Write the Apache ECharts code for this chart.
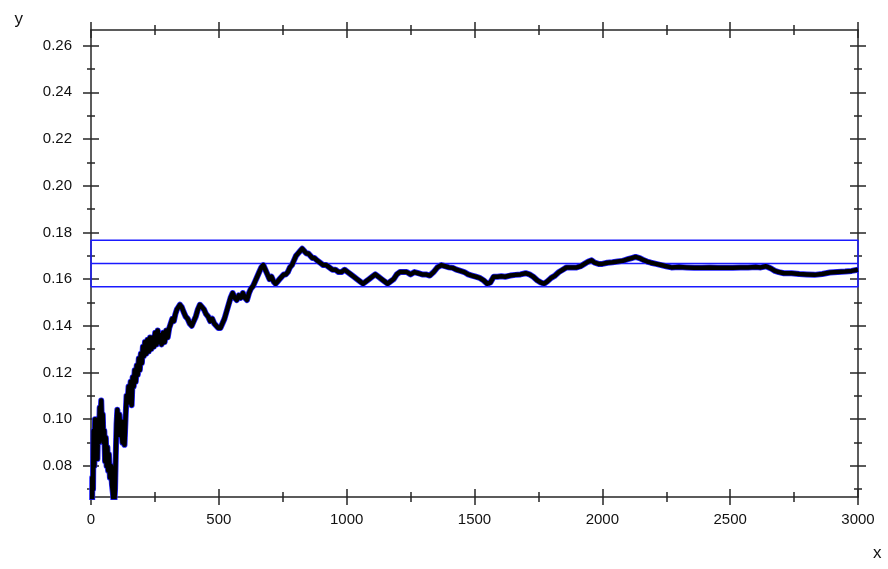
<!DOCTYPE html>
<html><head><meta charset="utf-8">
<script src="https://cdn.jsdelivr.net/npm/echarts@6/dist/echarts.min.js"></script>
<style>html,body{margin:0;padding:0;background:#fff}#c{width:888px;height:569px}</style>
</head><body><div id="c"></div>
<script>
// ---- data ----
const xMajorTicks = [0, 500, 1000, 1500, 2000, 2500, 3000];
const xMinorTicks = [250, 750, 1250, 1750, 2250, 2750];
const yMajorTicks = [0.08, 0.10, 0.12, 0.14, 0.16, 0.18, 0.20, 0.22, 0.24, 0.26];
const yMinorTicks = [0.07, 0.09, 0.11, 0.13, 0.15, 0.17, 0.19, 0.21, 0.23, 0.25];
const expected = 1 / 6;
const bandLow = expected - 0.01;
const bandHigh = expected + 0.01;
const yMin = expected - 0.1;
const yMax = expected + 0.1;

const rollsX = [2,5,8,10,13,16,19,22,25,28,31,34,37,40,43,46,49,52,55,58,61,64,67,70,74,78,82,86,90,94,97,100,103,107,111,115,119,123,127,131,135,139,143,147,151,155,159,163,167,171,175,179,183,187,191,195,199,203,207,211,216,221,226,231,236,241,246,251,256,261,266,271,276,282,288,294,300,306,312,318,324,330,336,342,348,355,362,370,378,386,394,402,410,418,426,434,442,450,458,466,474,482,490,498,506,514,522,530,538,546,554,562,570,578,586,594,602,610,618,626,634,642,650,658,666,674,682,690,698,706,714,722,730,738,746,754,762,770,778,786,794,802,810,818,826,834,842,850,858,866,874,884,896,908,920,932,944,956,968,980,992,1004,1016,1028,1040,1052,1064,1076,1088,1100,1112,1124,1136,1148,1160,1172,1184,1196,1208,1220,1235,1250,1265,1280,1295,1310,1325,1340,1355,1370,1385,1400,1415,1430,1445,1460,1475,1490,1505,1520,1535,1550,1562,1575,1590,1605,1620,1640,1660,1680,1700,1715,1730,1745,1760,1772,1785,1800,1815,1830,1845,1860,1880,1900,1915,1930,1945,1958,1970,1985,2000,2020,2040,2060,2080,2100,2115,2130,2145,2160,2175,2190,2210,2230,2250,2270,2300,2330,2360,2390,2420,2450,2480,2510,2540,2570,2600,2620,2640,2660,2675,2690,2710,2740,2770,2800,2830,2860,2890,2920,2950,2975,3000];
const rollsY = [0.0,0.075,0.07,0.095,0.08,0.1,0.085,0.098,0.083,0.1,0.09,0.105,0.1,0.108,0.097,0.102,0.09,0.095,0.082,0.092,0.08,0.088,0.078,0.085,0.075,0.08,0.072,0.068,0.062,0.07,0.085,0.098,0.104,0.098,0.102,0.093,0.099,0.09,0.096,0.089,0.1,0.11,0.107,0.114,0.108,0.116,0.106,0.118,0.114,0.121,0.116,0.123,0.119,0.126,0.121,0.128,0.124,0.131,0.127,0.133,0.128,0.134,0.129,0.135,0.13,0.135,0.131,0.137,0.132,0.138,0.133,0.136,0.132,0.137,0.133,0.138,0.135,0.139,0.141,0.143,0.142,0.145,0.147,0.148,0.149,0.148,0.146,0.144,0.143,0.141,0.14,0.142,0.144,0.147,0.149,0.148,0.147,0.145,0.144,0.142,0.143,0.141,0.14,0.139,0.139,0.141,0.143,0.146,0.149,0.152,0.154,0.152,0.151,0.153,0.152,0.154,0.152,0.151,0.154,0.156,0.157,0.159,0.161,0.163,0.165,0.166,0.164,0.162,0.16,0.161,0.159,0.158,0.159,0.16,0.161,0.162,0.162,0.163,0.165,0.166,0.168,0.17,0.171,0.172,0.173,0.172,0.171,0.171,0.17,0.169,0.169,0.168,0.167,0.166,0.166,0.165,0.164,0.164,0.163,0.163,0.164,0.163,0.162,0.161,0.16,0.159,0.158,0.159,0.16,0.161,0.162,0.161,0.16,0.159,0.158,0.159,0.16,0.162,0.163,0.163,0.163,0.162,0.163,0.1625,0.162,0.162,0.1615,0.163,0.165,0.166,0.1655,0.165,0.1648,0.164,0.1635,0.163,0.162,0.1615,0.161,0.1605,0.1595,0.158,0.1585,0.161,0.161,0.1612,0.161,0.1615,0.1618,0.162,0.1625,0.162,0.161,0.1595,0.1585,0.158,0.159,0.1605,0.1615,0.163,0.164,0.165,0.165,0.165,0.1655,0.1665,0.1675,0.168,0.167,0.1665,0.1665,0.167,0.1672,0.1675,0.1678,0.1685,0.169,0.1695,0.169,0.1682,0.1675,0.167,0.1665,0.166,0.1655,0.165,0.1652,0.165,0.1648,0.1648,0.165,0.1648,0.1648,0.1648,0.165,0.165,0.1652,0.165,0.1655,0.1645,0.1635,0.163,0.1625,0.1625,0.1622,0.162,0.1618,0.1622,0.1628,0.163,0.1632,0.1635,0.164];

// ---- chart ----
const rolls = rollsX.map((x, i) => [x, rollsY[i]]);
const FONT = 'Liberation Sans';
const TXT = '#111';
const AX = '#262626';

function xAx(pos, inside, len, values, main) {
  return {
    type: 'value', position: pos, min: 0, max: 3000,
    axisLine: { show: main, onZero: false, lineStyle: { color: AX, width: 1.5 } },
    axisTick: { show: true, inside: inside, length: len, customValues: values, lineStyle: { color: AX, width: 1.5 } },
    axisLabel: main && pos === 'bottom' ? { show: true, customValues: xMajorTicks, margin: 15, color: TXT, fontFamily: FONT, fontSize: 15, formatter: v => String(v) } : { show: false },
    splitLine: { show: false },
    name: main && pos === 'bottom' ? 'x' : '',
    nameLocation: 'end', nameGap: 15,
    nameTextStyle: { color: TXT, fontFamily: FONT, fontSize: 17, verticalAlign: 'top', padding: [48, 0, 0, 0] }
  };
}
function yAx(pos, inside, len, values, main) {
  return {
    type: 'value', position: pos, min: yMin, max: yMax,
    axisLine: { show: main, onZero: false, lineStyle: { color: AX, width: 1.5 } },
    axisTick: { show: true, inside: inside, length: len, customValues: values, lineStyle: { color: AX, width: 1.5 } },
    axisLabel: main && pos === 'left' ? { show: true, customValues: yMajorTicks, margin: 19, color: TXT, fontFamily: FONT, fontSize: 15, formatter: v => v.toFixed(2) } : { show: false },
    splitLine: { show: false },
    name: main && pos === 'left' ? 'y' : '',
    nameLocation: 'end', nameGap: 2,
    nameTextStyle: { color: TXT, fontFamily: FONT, fontSize: 17, align: 'right', verticalAlign: 'bottom', padding: [0, 68, 0, 0] }
  };
}

const chart = echarts.init(document.getElementById('c'), null, { renderer: 'canvas' });
chart.setOption({
  animation: false,
  backgroundColor: '#fff',
  grid: { left: 91, right: 30, top: 30, bottom: 72, containLabel: false, outerBoundsMode: 'none' },
  xAxis: [
    xAx('bottom', false, 8, xMajorTicks, true),
    xAx('bottom', true, 8, xMajorTicks, false),
    xAx('bottom', false, 5, xMinorTicks, false),
    xAx('bottom', true, 5, xMinorTicks, false),
    xAx('top', false, 8, xMajorTicks, true),
    xAx('top', true, 8, xMajorTicks, false),
    xAx('top', false, 5, xMinorTicks, false),
    xAx('top', true, 5, xMinorTicks, false)
  ],
  yAxis: [
    yAx('left', false, 8, yMajorTicks, true),
    yAx('left', true, 8, yMajorTicks, false),
    yAx('left', false, 4, yMinorTicks, false),
    yAx('left', true, 4, yMinorTicks, false),
    yAx('right', false, 8, yMajorTicks, true),
    yAx('right', true, 8, yMajorTicks, false),
    yAx('right', false, 4, yMinorTicks, false),
    yAx('right', true, 4, yMinorTicks, false)
  ],
  series: [
    {
      type: 'line', xAxisIndex: 0, yAxisIndex: 0, symbol: 'none', silent: true,
      data: [[0, bandLow], [3000, bandLow], [3000, bandHigh], [0, bandHigh], [0, bandLow]],
      lineStyle: { color: '#1a1aff', width: 1.5 }, z: 3
    },
    {
      type: 'line', xAxisIndex: 0, yAxisIndex: 0, symbol: 'none', silent: true,
      data: [[0, expected], [3000, expected]],
      lineStyle: { color: '#1a1aff', width: 1.5 }, z: 3
    },
    {
      type: 'line', xAxisIndex: 0, yAxisIndex: 0, symbol: 'none', silent: true,
      data: rolls, lineStyle: { color: '#2020ff', width: 6, join: 'round' }, z: 4
    },
    {
      type: 'line', xAxisIndex: 0, yAxisIndex: 0, symbol: 'none', silent: true,
      data: rolls, lineStyle: { color: '#000', width: 4.5, join: 'round' }, z: 5
    }
  ]
});
</script></body></html>
